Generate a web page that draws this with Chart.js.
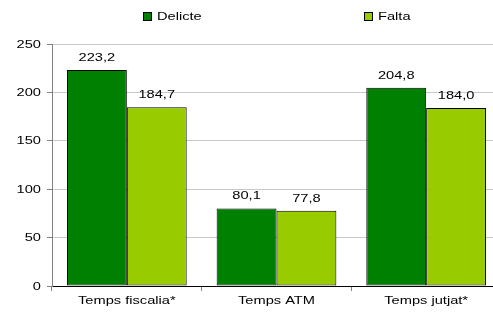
<!DOCTYPE html>
<html>
<head>
<meta charset="utf-8">
<script src="https://cdn.jsdelivr.net/npm/chart.js@4.4.1/dist/chart.umd.min.js"></script>
<style>
  html, body { margin: 0; padding: 0; background: #ffffff; overflow: hidden; }
  #wrap { width: 493px; height: 315px; position: relative; overflow: hidden; }
  canvas { display: block; }
</style>
</head>
<body>
<div id="wrap"><canvas id="c" width="501" height="315"></canvas></div>
<script>
const categories = ["Temps fiscalia*", "Temps ATM", "Temps jutjat*"];
const seriesNames = ["Delicte", "Falta"];
const delicteValues = [223.2, 80.1, 204.8];
const faltaValues = [184.7, 77.8, 184.0];
const yTicks = [0, 50, 100, 150, 200, 250];

const colors = ["#008000", "#99CC00"];
const FONT = "'Liberation Sans', Arial, sans-serif";
const SX = 1.33;

function wideText(ctx, text, x, y, align) {
  ctx.save();
  ctx.translate(x, y);
  ctx.scale(SX, 1);
  ctx.textAlign = align;
  ctx.fillText(text, 0, 0);
  ctx.restore();
}

const textLayer = {
  id: 'textLayer',
  afterDraw(chart) {
    const ctx = chart.ctx;
    ctx.save();
    ctx.font = "11px " + FONT;
    ctx.fillStyle = "#000";
    ctx.textBaseline = "middle";

    // value labels above bars
    ctx.textBaseline = "alphabetic";
    chart.data.datasets.forEach((ds, i) => {
      chart.getDatasetMeta(i).data.forEach((bar, j) => {
        const v = ds.data[j];
        wideText(ctx, v.toFixed(1).replace('.', ','), bar.x, bar.y - 9, 'center');
      });
    });

    // y tick labels
    ctx.textBaseline = "middle";
    const ys = chart.scales.y;
    ys.ticks.forEach(t => {
      wideText(ctx, String(t.value), 41, ys.getPixelForValue(t.value) + 0.5, 'right');
    });

    // x tick labels
    const xs = chart.scales.x;
    chart.data.labels.forEach((lab, i) => {
      wideText(ctx, lab, xs.getPixelForValue(i), 301, 'center');
    });

    // legend
    const lx = [143, 364];
    chart.data.datasets.forEach((ds, i) => {
      const x = lx[i];
      ctx.fillStyle = ds.backgroundColor;
      ctx.fillRect(x + 0.5, 12.5, 8, 8);
      ctx.strokeStyle = "#000";
      ctx.lineWidth = 1;
      ctx.strokeRect(x + 0.5, 12.5, 8, 8);
      ctx.fillStyle = "#000";
      wideText(ctx, ds.label, x + 14, 16.5, 'left');
    });
    ctx.restore();
  }
};

new Chart(document.getElementById('c'), {
  type: 'bar',
  data: {
    labels: categories,
    datasets: [
      { label: seriesNames[0], data: delicteValues, backgroundColor: colors[0], borderColor: "#000", borderWidth: 1, borderSkipped: false, categoryPercentage: 0.8, barPercentage: 1.0 },
      { label: seriesNames[1], data: faltaValues, backgroundColor: colors[1], borderColor: "#000", borderWidth: 1, borderSkipped: false, categoryPercentage: 0.8, barPercentage: 1.0 }
    ]
  },
  options: {
    responsive: false,
    animation: false,
    devicePixelRatio: 1,
    layout: { padding: { top: 44, right: 0, left: 0, bottom: 0 } },
    plugins: {
      legend: { display: false },
      tooltip: { enabled: false }
    },
    scales: {
      x: {
        grid: { display: true, drawOnChartArea: false, drawTicks: true, tickLength: 5, offset: true, color: "#808080" },
        border: { display: true, color: "#000", width: 1 },
        ticks: { display: false },
        afterFit(s) { s.height = 29; }
      },
      y: {
        min: 0, max: 250,
        afterBuildTicks(s) { s.ticks = yTicks.map(v => ({ value: v })); },
        grid: { color: "#c8c8c8", tickColor: "#808080", tickLength: 5, drawTicks: true },
        border: { display: true, color: "#808080", width: 1 },
        ticks: { display: false },
        afterFit(s) { s.width = 52; }
      }
    }
  },
  plugins: [textLayer]
});
</script>
</body>
</html>
